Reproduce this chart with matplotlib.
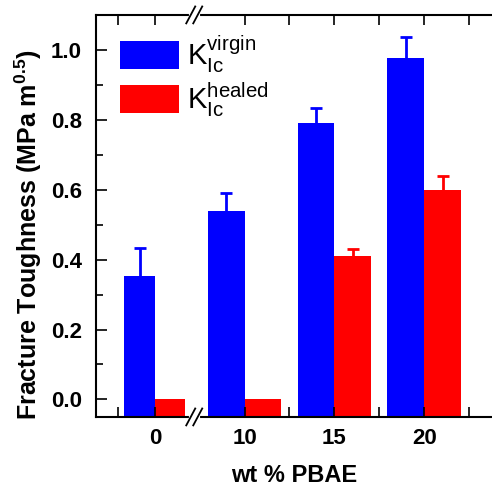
import matplotlib.pyplot as plt
import numpy as np

plt.rcParams['font.family'] = ['Liberation Sans', 'DejaVu Sans']
plt.rcParams['mathtext.fontset'] = 'custom'
plt.rcParams['mathtext.rm'] = 'Liberation Sans'
plt.rcParams['mathtext.bf'] = 'Liberation Sans:bold'

categories = ["0", "10", "15", "20"]
virgin = [0.352, 0.54, 0.79, 0.978]
virgin_err = [0.08, 0.05, 0.043, 0.06]
healed = [0.0, 0.0, 0.411, 0.60]
healed_err = [0.0, 0.0, 0.02, 0.04]

widths = np.array([0.34, 0.41, 0.41, 0.41])
ymin, ymax = -0.05, 1.10

fig = plt.figure(figsize=(4.92, 4.94), dpi=100)
ax = fig.add_axes([0.195, 0.156, 0.805, 0.8138])

x = np.arange(len(categories))
ax.bar(x - widths / 2, np.array(virgin) - ymin, widths, bottom=ymin, color='#0000ff',
       label=r'$\mathregular{K_{Ic}^{virgin}}$')
ax.bar(x + widths / 2, np.array(healed) - ymin, widths, bottom=ymin, color='#ff0000',
       label=r'$\mathregular{K_{Ic}^{healed}}$')


def upper_err(xs, vals, errs, color):
    # error bar drawn upward only, single cap on top
    for xi, v, e in zip(xs, vals, errs):
        if e <= 0:
            continue
        _, caps, _ = ax.errorbar(xi, v, yerr=[[0], [e]], fmt='none', ecolor=color,
                                 capsize=4, capthick=2, elinewidth=2)
        caps[0].set_visible(False)


upper_err(x - widths / 2, virgin, virgin_err, '#0000ff')
upper_err(x + widths / 2, healed, healed_err, '#ff0000')

ax.set_xlim(-0.656, 3.756)
ax.set_ylim(ymin, ymax)
ax.set_xticks(x)
ax.set_xticklabels(categories, fontsize=16, fontweight='bold')
ax.set_xticks([-0.41, 1.5, 2.5, 3.5], minor=True)
ax.set_yticks([0.0, 0.2, 0.4, 0.6, 0.8, 1.0])
ax.set_yticks([0.1, 0.3, 0.5, 0.7, 0.9], minor=True)
ax.set_yticklabels(['0.0', '0.2', '0.4', '0.6', '0.8', '1.0'], fontsize=16, fontweight='bold')

ax.tick_params(axis='x', which='both', direction='in', top=True, length=7, width=1.2, pad=8)
ax.tick_params(axis='y', which='major', direction='in', length=8, width=1.2, pad=10)
ax.tick_params(axis='y', which='minor', direction='in', length=5, width=1.2)
ax.spines['right'].set_visible(False)
for s in ['left', 'top', 'bottom']:
    ax.spines[s].set_linewidth(1.5)

ax.set_xlabel('wt % PBAE', fontsize=17, fontweight='bold', labelpad=11)
ax.set_ylabel(r'Fracture Toughness (MPa m$^{\mathbf{0.5}}$)', fontsize=18, fontweight='bold', labelpad=5)
ax.yaxis.label.set_y(0.453)

# axis break marks on top and bottom spines
trans = ax.get_xaxis_transform()
b1, b2 = 0.40, 0.478
for yb in [0, 1]:
    ax.plot([b1, b2], [yb, yb], color='white', lw=3, transform=trans, clip_on=False, zorder=5)
    for bx in [b1, b2]:
        ax.plot([bx - 0.05, bx + 0.05], [yb - 0.021, yb + 0.021], color='black', lw=1.3,
                transform=trans, clip_on=False, zorder=6)

ax.legend(loc='upper left', bbox_to_anchor=(-0.005, 1.018), frameon=False, fontsize=21,
          handlelength=2.0, handleheight=1.1, labelspacing=0.18, handletextpad=0.3)

fig.savefig('out.png', dpi=100)
